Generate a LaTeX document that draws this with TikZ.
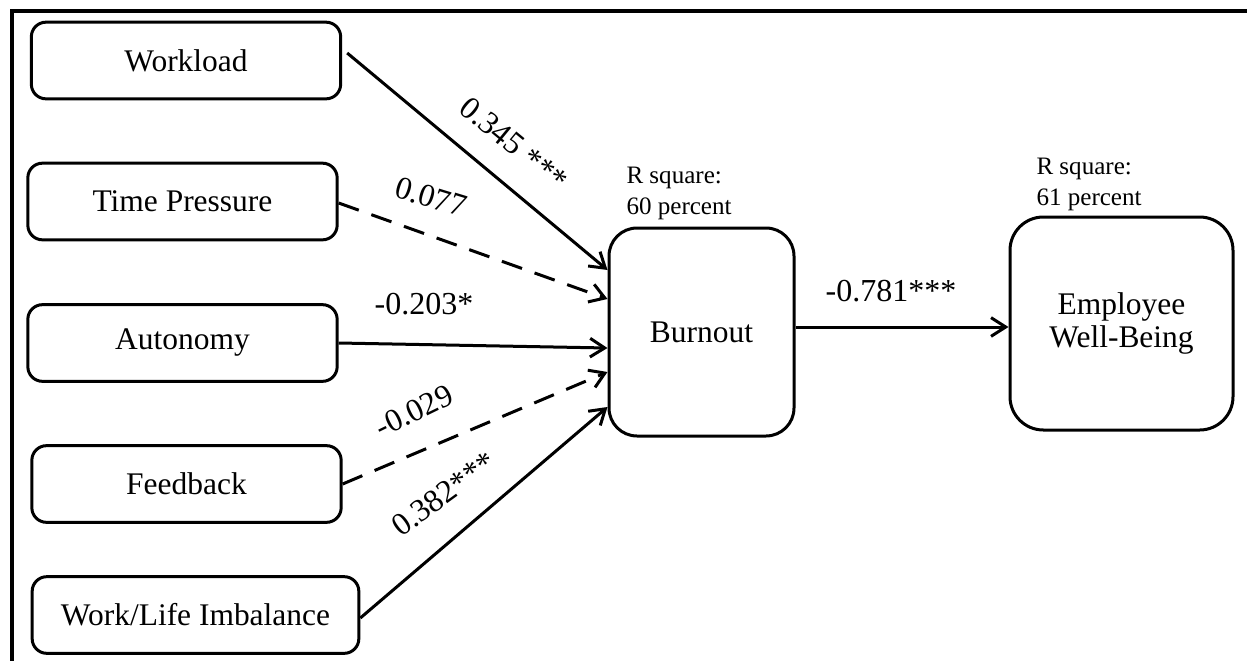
\documentclass[tikz,border=0pt]{standalone}
\usepackage{fontspec}
\setmainfont{Liberation Serif}
\usetikzlibrary{arrows.meta,calc}

\newcommand{\bigtxt}{\fontsize{23.6}{24.75}\selectfont}
\newcommand{\labtxt}{\fontsize{24}{29}\selectfont}
\newcommand{\rsqtxt}{\fontsize{18.8}{23.3}\selectfont}

\tikzset{every picture/.style={line width=2.25pt}}
\tikzset{
	factor/.style={draw, rounded corners=11pt, inner sep=0.75pt, minimum width=232pt, minimum height=57.5pt, font=\bigtxt},
	outcome/.style={draw, inner sep=0.75pt, align=center, font=\bigtxt},
	path arrow/.style={-{Straight Barb[length=11pt,width=14pt]}},
	weak path/.style={path arrow, dash pattern={on 16pt off 10pt}},
	coef/.style={inner sep=0.75pt, font=\labtxt},
	rsq/.style={anchor=north west, inner sep=0pt, align=left, font=\rsqtxt}
}

\begin{document}
\begin{tikzpicture}[x=0.75pt,y=0.75pt,yscale=-1,xscale=1]
	\useasboundingbox (0,0) rectangle (1247,661);
	
	%Frame
	\draw [line width=3pt]  (12,661) -- (12,11) -- (1247,11) ;
	
	%Shape: Rounded Rect (predictors)
	\node [factor] (work) at (186,60.5) {Workload};
	\node [factor] (time) at (182.5,201.5) {Time Pressure};
	\node [factor] (auto) at (182.5,343) {Autonomy};
	\node [factor] (feed) at (186.5,484) {Feedback};
	\node [factor, minimum width=245pt] (wlim) at (195.5,615) {Work/Life Imbalance};
	%Shape: Rounded Rect (mediator and outcome)
	\node [outcome, rounded corners=21pt, minimum width=138.75pt, minimum height=156pt] (burn) at (701.5,332) {Burnout};
	\node [outcome, rounded corners=25pt, minimum width=167.25pt, minimum height=159.75pt] (ewb) at (1121.5,323.5) {Employee\\Well-Being};
	
	%Straight Lines
	\draw [path arrow]  ($(work.east)+(5,-7.5)$) -- ($(burn.west)+(0,-62)$) ;
	\draw [weak path]  ($(time.east)+(0,1.5)$) -- ($(burn.west)+(0,-33)$) ;
	\draw [path arrow]  (auto.east) -- ($(burn.west)+(0,16)$) ;
	\draw [weak path]  (feed.east) -- ($(burn.west)+(0,40)$) ;
	\draw [path arrow]  ($(wlim.east)+(0,3)$) -- ($(burn.west)+(0,75)$) ;
	\draw [path arrow]  ($(burn.east)+(0,-5)$) -- ($(ewb.west)+(0,3.5)$) ;
	
	% Text Node
	\node [coef, rotate=-39.5] (cwork) at (514,144) {0.345 ***};
	% Text Node
	\node [coef, rotate=-17] (ctime) at (431,197) {0.077};
	% Text Node
	\node [coef] (cauto) at (424,304) {-0.203*};
	% Text Node
	\node [coef, rotate=26] (cfeed) at (414,411) {-0.029};
	% Text Node
	\node [coef, rotate=36] (cwlim) at (444,494) {0.382***};
	% Text Node
	\node [coef] (cburn) at (891,291) {-0.781***};
	% Text Node
	\node [rsq] (rburn) at (625,165.4) {R square:\\60 percent};
	% Text Node
	\node [rsq] (rewb) at (1035,156.4) {R square:\\61 percent};
	
\end{tikzpicture}
\end{document}
